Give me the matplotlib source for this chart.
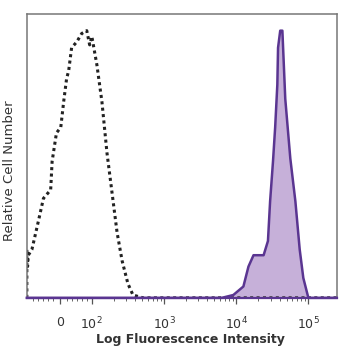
"""
Flow cytometry histogram: stained vs isotype control
"""
import matplotlib
matplotlib.use('Agg')
import matplotlib.pyplot as plt
import numpy as np

# x positions in decade units (10^2 -> 2, 10^3 -> 3, ...), y in % of max
ctrl_x = [1.10, 1.10, 1.11, 1.12, 1.17, 1.26, 1.33, 1.43, 1.45, 1.51, 1.57, 1.61,
          1.65, 1.68, 1.72, 1.79, 1.86, 1.93, 1.97, 2.00, 2.07, 2.14, 2.21,
          2.28, 2.35, 2.42, 2.50, 2.57, 2.71, 3.00, 4.00, 5.39]
ctrl_y = [0, 17, 11, 15, 17, 27, 35, 38, 48, 58, 60, 69, 77, 80, 88, 90, 93, 94,
          89, 92, 82, 69, 51, 37, 23, 13, 5, 1, 0, 0, 0, 0]

stain_x = [1.10, 3.80, 3.96, 4.10, 4.17, 4.24, 4.31, 4.38, 4.44, 4.47, 4.51, 4.54,
           4.57, 4.58, 4.61, 4.64, 4.65, 4.68, 4.72, 4.75, 4.82, 4.88, 4.93,
           4.97, 5.00, 5.39]
stain_y = [0, 0, 1, 4, 11, 15, 15, 15, 20, 34, 48, 60, 75, 88, 94, 94, 88, 70,
           58, 49, 34, 17, 7, 3, 0, 0]

tick_pos = [1.556, 2, 3, 4, 5]
tick_labels = ['0', r'$10^{2}$', r'$10^{3}$', r'$10^{4}$', r'$10^{5}$']

purple = '#5a3591'
fill = '#c6b0d9'

fig, ax = plt.subplots(figsize=(3.58, 3.58), dpi=100)
fig.subplots_adjust(left=0.075, right=0.94, top=0.962, bottom=0.168)

ax.fill_between(stain_x, stain_y, 0, color=fill, lw=0, zorder=1)
ax.plot(ctrl_x, ctrl_y, color='#222222', lw=2.2, ls=(0, (1, 1.1)), zorder=2)
ax.plot(stain_x, stain_y, color=purple, lw=1.8, zorder=3, clip_on=False)

ax.set_xlim(1.10, 5.39)
ax.set_ylim(0, 100)

# minor ticks: log spacing inside decades plus a few in the linear zone
minor = [np.log10(k * 10 ** d) for d in range(2, 5) for k in range(2, 10)]
minor += [1.18, 1.25, 1.32, 1.39, 1.46, 1.65, 1.73, 1.80, 1.87, 1.93]
ax.set_xticks(tick_pos)
ax.set_xticklabels(tick_labels, fontsize=9, color='#333333')
ax.set_xticks(minor, minor=True)
ax.set_yticks([])
ax.tick_params(axis='x', which='major', length=4, width=0.9, color='#555555', pad=9)
ax.tick_params(axis='x', which='minor', length=2.5, width=0.7, color='#666666')

for s in ['top', 'right', 'left']:
    ax.spines[s].set_color('#777777')
    ax.spines[s].set_linewidth(1.1)
ax.spines['bottom'].set_color(purple)
ax.spines['bottom'].set_linewidth(1.6)

ax.set_xlabel('Log Fluorescence Intensity', fontsize=9, color='#333333',
              fontweight='semibold')
ax.xaxis.set_label_coords(0.528, -0.125)
ax.set_ylabel('Relative Cell Number', fontsize=9.5, color='#333333')
ax.yaxis.set_label_coords(-0.035, 0.447)

fig.savefig('out.png', dpi=100)
